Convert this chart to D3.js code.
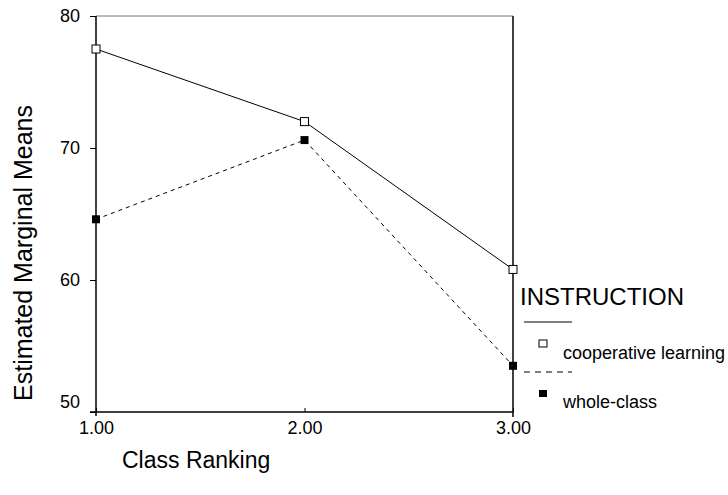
<!DOCTYPE html>
<html>
<head>
<meta charset="utf-8">
<script src="https://cdn.jsdelivr.net/npm/d3@7"></script>
<style>
  body { margin: 0; background: #fff; }
  text { font-family: "Liberation Sans", Arial, Helvetica, sans-serif; fill: #000; }
</style>
</head>
<body>
<div id="chart"></div>
<script>
const classRanking = [1, 2, 3];
const cooperative = [77.5, 72.0, 60.8];
const wholeClass = [64.6, 70.6, 53.5];
const yTicks = [50, 60, 70, 80];
const seriesNames = ["cooperative learning", "whole-class"];

const width = 728, height = 495;
const plotLeft = 96, plotRight = 513, plotTop = 16, plotBottom = 412;

const svg = d3.select("#chart").append("svg")
    .attr("width", width)
    .attr("height", height);

const x = d3.scaleLinear().domain([1, 3]).range([plotLeft, plotRight]);
const y = d3.scaleLinear().domain([50, 80]).range([plotBottom, plotTop]);

// frame lines (top and right)
svg.append("line")
    .attr("x1", plotLeft).attr("x2", plotRight)
    .attr("y1", plotTop).attr("y2", plotTop)
    .attr("stroke", "#777").attr("stroke-width", 1);
svg.append("line")
    .attr("x1", plotRight).attr("x2", plotRight)
    .attr("y1", plotTop).attr("y2", plotBottom + 5)
    .attr("stroke", "#000").attr("stroke-width", 1.5);

// y axis
const yAxis = svg.append("g")
    .attr("transform", `translate(${plotLeft},0)`)
    .call(d3.axisLeft(y).tickValues(yTicks).tickSize(6).tickPadding(10).tickFormat(d3.format("d")));
yAxis.select(".domain").attr("stroke-width", 1.5).attr("d", `M0,${plotTop}V${plotBottom + 4}`);
yAxis.selectAll("text").style("font-size", "18px").attr("font-family", null);
// the 50 label sits a bit above its tick in the original
yAxis.selectAll(".tick").filter(d => d === 50).select("text").attr("dy", "-0.25em");

// x axis
const xAxis = svg.append("g")
    .attr("transform", `translate(0,${plotBottom})`)
    .call(d3.axisBottom(x).tickValues(classRanking).tickSize(5).tickPadding(4).tickFormat(d3.format(".2f")));
xAxis.select(".domain").attr("stroke-width", 1.5).attr("d", `M${plotLeft - 6},0H${plotRight}`);
xAxis.selectAll(".tick line").attr("y1", -4).attr("y2", 0);
xAxis.selectAll("text").style("font-size", "18px").attr("font-family", null);

// lines
const line = d3.line().x((d, i) => x(classRanking[i])).y(d => y(d));
svg.append("path").datum(cooperative)
    .attr("fill", "none").attr("stroke", "#000").attr("stroke-width", 1)
    .attr("d", line);
svg.append("path").datum(wholeClass)
    .attr("fill", "none").attr("stroke", "#000").attr("stroke-width", 1)
    .attr("stroke-dasharray", "4,4")
    .attr("d", line);

// markers
const s = 8;
svg.selectAll(".coop").data(cooperative).join("rect")
    .attr("x", (d, i) => x(classRanking[i]) - s / 2)
    .attr("y", d => y(d) - s / 2)
    .attr("width", s).attr("height", s)
    .attr("fill", "#fff").attr("stroke", "#000").attr("stroke-width", 1);
svg.selectAll(".whole").data(wholeClass).join("rect")
    .attr("x", (d, i) => x(classRanking[i]) - s / 2)
    .attr("y", d => y(d) - s / 2)
    .attr("width", s).attr("height", s)
    .attr("fill", "#000");

// axis titles
svg.append("text")
    .attr("transform", "translate(32,253) rotate(-90)")
    .attr("text-anchor", "middle")
    .style("font-size", "25px")
    .text("Estimated Marginal Means");
svg.append("text")
    .attr("x", 122).attr("y", 468)
    .style("font-size", "23px")
    .text("Class Ranking");

// legend
const lg = svg.append("g");
lg.append("text").attr("x", 520).attr("y", 305)
    .style("font-size", "24px").text("INSTRUCTION");
lg.append("line").attr("x1", 524).attr("x2", 572).attr("y1", 322).attr("y2", 322)
    .attr("stroke", "#000");
lg.append("rect").attr("x", 539).attr("y", 340).attr("width", 8).attr("height", 7)
    .attr("fill", "#fff").attr("stroke", "#000");
lg.append("text").attr("x", 563).attr("y", 359).style("font-size", "18px").text(seriesNames[0]);
lg.append("line").attr("x1", 524).attr("x2", 572).attr("y1", 372).attr("y2", 372)
    .attr("stroke", "#000").attr("stroke-dasharray", "6,5");
lg.append("rect").attr("x", 539).attr("y", 390).attr("width", 8).attr("height", 7)
    .attr("fill", "#000");
lg.append("text").attr("x", 563).attr("y", 408).style("font-size", "18px").text(seriesNames[1]);
</script>
</body>
</html>
